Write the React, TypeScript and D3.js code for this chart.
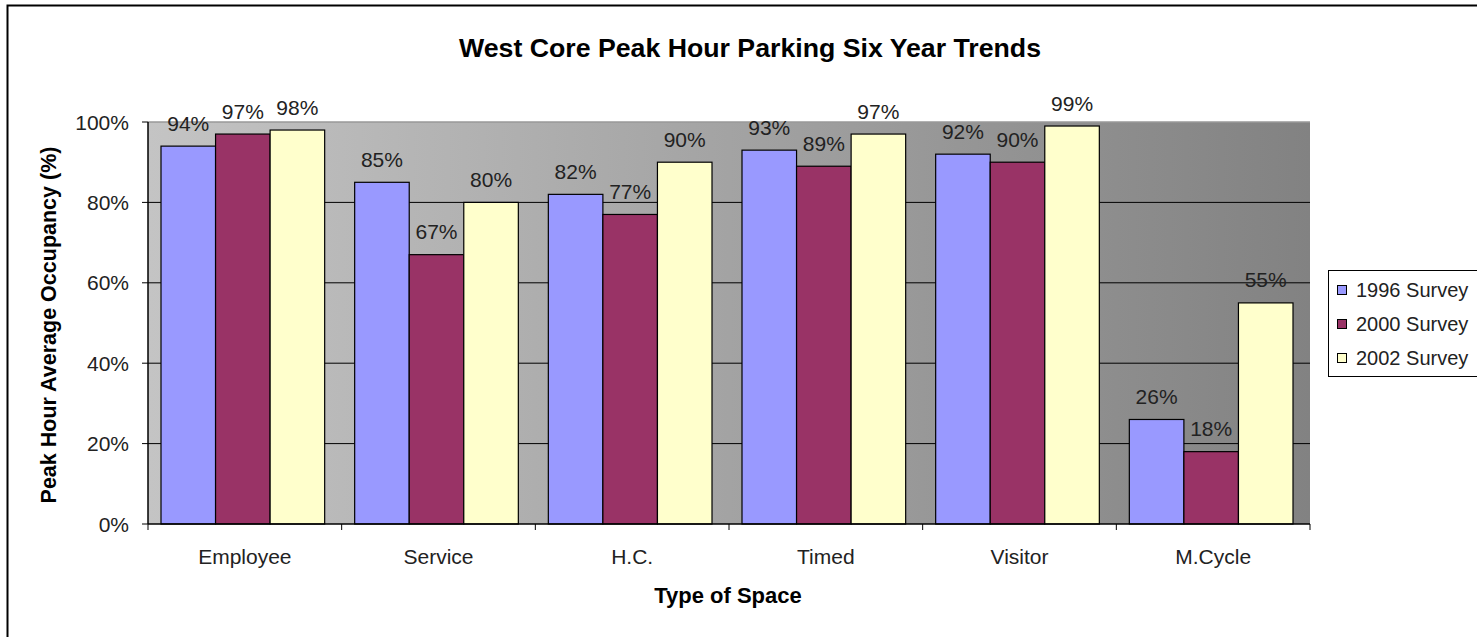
import React from "react";
import * as d3 from "d3";

const categories = ["Employee", "Service", "H.C.", "Timed", "Visitor", "M.Cycle"];
const seriesNames = ["1996 Survey", "2000 Survey", "2002 Survey"];
const values1996 = [94, 85, 82, 93, 92, 26];
const values2000 = [97, 67, 77, 89, 90, 18];
const values2002 = [98, 80, 90, 97, 99, 55];
const yTicks = [0, 20, 40, 60, 80, 100];
const colors = ["#9999ff", "#993366", "#ffffcc"];

const W = 1477, H = 637;
const L = 148, R = 1310, T = 122, B = 524;
const FONT = "'Liberation Sans', Arial, sans-serif";

export default function App() {
  const series = [values1996, values2000, values2002];
  const x = d3.scaleBand<string>().domain(categories).range([L, R]).padding(0);
  const bw = x.bandwidth();
  const inner = d3.scaleBand<number>().domain([0, 1, 2]).range([13, bw - 17]).padding(0);
  const y = d3.scaleLinear().domain([0, 100]).range([B, T]);

  return (
    <svg width={W} height={H} style={{ position: "absolute", left: 0, top: 0 }} fontFamily={FONT}>
      <defs>
        <linearGradient id="bg" x1="0" x2="1" y1="0" y2="0">
          <stop offset="0" stopColor="#c4c4c4" />
          <stop offset="1" stopColor="#828282" />
        </linearGradient>
      </defs>
      <rect x={0} y={0} width={W} height={H} fill="#fff" />
      <rect x={7.5} y={5.5} width={W + 10} height={H + 10} fill="#fff" stroke="#000" strokeWidth={2} />
      <text x={750} y={57} textAnchor="middle" fontSize={26.7} fontWeight="bold" fill="#000">
        West Core Peak Hour Parking Six Year Trends
      </text>
      <rect x={L} y={T} width={R - L} height={B - T} fill="url(#bg)" />
      <line x1={L} x2={R} y1={y(100)} y2={y(100)} stroke="#999" strokeWidth={1.5} />
      {yTicks.filter(t => t > 0 && t < 100).map(t => (
        <line key={t} x1={L} x2={R} y1={y(t)} y2={y(t)} stroke="#000" strokeWidth={1} />
      ))}
      {categories.map((c, ci) =>
        series.map((s, si) => {
          const bx = (x(c) as number) + (inner(si) as number);
          const w = inner.bandwidth();
          return (
            <g key={c + si}>
              <rect x={bx} y={y(s[ci])} width={w} height={B - y(s[ci])} fill={colors[si]} stroke="#000" strokeWidth={1.2} />
              <text x={bx + w / 2} y={y(s[ci]) - 15.5} textAnchor="middle" fontSize={21} fill="#222">
                {s[ci]}%
              </text>
            </g>
          );
        })
      )}
      <line x1={L} x2={L} y1={T} y2={B} stroke="#000" strokeWidth={1.5} />
      <line x1={L} x2={R} y1={B} y2={B} stroke="#000" strokeWidth={1.5} />
      {yTicks.map(t => (
        <g key={t}>
          <line x1={L - 6} x2={L} y1={y(t)} y2={y(t)} stroke="#000" />
          <text x={129} y={y(t) + 7.5} textAnchor="end" fontSize={21} fill="#222">{t}%</text>
        </g>
      ))}
      {[...categories.map(c => x(c) as number), R].map((p, i) => (
        <line key={i} x1={p} x2={p} y1={B} y2={B + 6} stroke="#000" />
      ))}
      {categories.map(c => (
        <text key={c} x={(x(c) as number) + bw / 2} y={563.5} textAnchor="middle" fontSize={21} fill="#222">{c}</text>
      ))}
      <text x={728} y={603} textAnchor="middle" fontSize={22} fontWeight="bold" fill="#000">Type of Space</text>
      <text transform="translate(56,325) rotate(-90)" textAnchor="middle" fontSize={21.5} fontWeight="bold" fill="#000">
        Peak Hour Average Occupancy (%)
      </text>
      <rect x={1328.5} y={270.5} width={170} height={106} fill="#fff" stroke="#000" />
      {seriesNames.map((n, i) => (
        <g key={n}>
          <rect x={1337.5} y={285.5 + i * 34} width={9} height={9} fill={colors[i]} stroke="#000" />
          <text x={1356} y={297 + i * 34} fontSize={20} fill="#222">{n}</text>
        </g>
      ))}
    </svg>
  );
}
